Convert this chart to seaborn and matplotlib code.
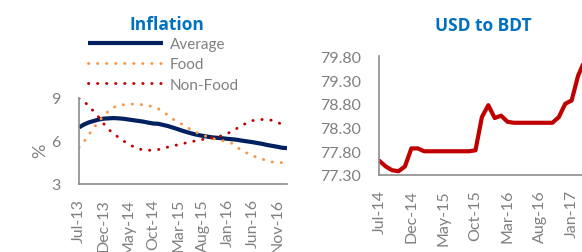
import pandas as pd
import numpy as np
import matplotlib
matplotlib.use("Agg")
import matplotlib.pyplot as plt
import seaborn as sns

# Inflation, monthly Jul-13 .. Jan-17
infl_months = pd.date_range("2013-07-01", "2017-01-01", freq="MS").strftime("%b-%y").tolist()
avg = [6.95, 7.15, 7.30, 7.40, 7.50, 7.56, 7.58, 7.60, 7.58, 7.55, 7.50, 7.45, 7.40, 7.35,
       7.28, 7.22, 7.20, 7.12, 7.04, 6.93, 6.82, 6.70, 6.60, 6.50, 6.42, 6.36, 6.30, 6.25,
       6.22, 6.19, 6.15, 6.12, 6.08, 6.02, 5.97, 5.92, 5.86, 5.80, 5.72, 5.66, 5.60, 5.53, 5.50]
food = [5.55, 5.95, 6.45, 6.93, 7.37, 7.77, 8.10, 8.35, 8.50, 8.53, 8.56, 8.58, 8.56, 8.52,
        8.48, 8.37, 8.25, 8.02, 7.80, 7.52, 7.30, 7.14, 6.92, 6.72, 6.55, 6.42, 6.28, 6.17,
        6.10, 6.02, 5.95, 5.82, 5.55, 5.30, 5.14, 4.98, 4.85, 4.74, 4.62, 4.54, 4.51, 4.49, 4.48]
non_food = [9.00, 8.75, 8.45, 8.05, 7.65, 7.20, 6.80, 6.50, 6.25, 6.00, 5.80, 5.60, 5.45, 5.38,
            5.35, 5.37, 5.40, 5.50, 5.58, 5.66, 5.74, 5.82, 5.90, 5.97, 6.05, 6.11, 6.18, 6.24,
            6.30, 6.38, 6.52, 6.72, 6.90, 7.10, 7.28, 7.42, 7.48, 7.50, 7.49, 7.44, 7.32, 7.15, 7.05]

# Exchange rate, monthly Jul-14 .. Mar-17
fx_months = pd.date_range("2014-07-01", "2017-03-01", freq="MS").strftime("%b-%y").tolist()
usd_bdt = [77.60, 77.48, 77.40, 77.38, 77.48, 77.86, 77.86, 77.80, 77.80, 77.80, 77.80, 77.80,
           77.80, 77.80, 77.80, 77.82, 78.52, 78.77, 78.50, 78.55, 78.42, 78.40, 78.40, 78.40,
           78.40, 78.40, 78.40, 78.40, 78.52, 78.80, 78.87, 79.39, 79.70]

sns.set_style("white")
plt.rcParams["font.family"] = ["Lato", "DejaVu Sans"]

grey = "#808080"
axis_grey = "#8c8c8c"
title_blue = "#0070C0"

infl = pd.DataFrame({"i": np.arange(len(infl_months)), "Average": avg,
                     "Food": food, "Non-Food": non_food})
fx = pd.DataFrame({"i": np.arange(len(fx_months)), "rate": usd_bdt})

fig = plt.figure(figsize=(5.82, 2.53), dpi=100)
W, H = 582, 253
ax1 = fig.add_axes([79 / W, 68 / H, 208 / W, 86 / H])
ax2 = fig.add_axes([379.3 / W, 77 / H, 218 / W, 118.7 / H])

dots = (0, (0.1, 3.0))
sns.lineplot(data=infl, x="i", y="Average", ax=ax1, color="#002060", lw=3,
             label="Average", solid_capstyle="butt")
sns.lineplot(data=infl, x="i", y="Food", ax=ax1, color="#F79646", lw=2.1,
             linestyle=dots, dash_capstyle="round", label="Food")
sns.lineplot(data=infl, x="i", y="Non-Food", ax=ax1, color="#C00000", lw=2.1,
             linestyle=dots, dash_capstyle="round", label="Non-Food")

sns.lineplot(data=fx, x="i", y="rate", ax=ax2, color="#C00000", lw=3)

for ax in (ax1, ax2):
    sns.despine(ax=ax)
    for s in ("left", "bottom"):
        ax.spines[s].set_color(axis_grey)
        ax.spines[s].set_linewidth(1.2)
    ax.tick_params(axis="both", colors=axis_grey, labelcolor=grey, direction="out",
                   length=4, width=1.2, labelsize=11.5)
    ax.tick_params(axis="y", pad=9)
    ax.tick_params(axis="x", pad=6)
    ax.set_xlabel("")
    ax.grid(False)

ax1.set_xlim(0, len(infl_months) - 1)
ax1.set_ylim(3, 9)
ax1.set_yticks([3, 6, 9])
xt = list(range(0, len(infl_months) - 1, 5))
ax1.set_xticks(xt)
ax1.set_xticklabels([infl_months[k] for k in xt], rotation=90, ha="center", va="top")
ax1.set_ylabel("%", color=grey, fontsize=13)
ax1.yaxis.set_label_coords(-0.15, 0.4)

ax2.set_xlim(0, 34)
ax2.set_ylim(77.3, 79.8)
ax2.set_yticks(np.arange(77.3, 79.81, 0.5))
ax2.set_yticklabels([f"{v:.2f}" for v in np.arange(77.3, 79.81, 0.5)])
xt2 = list(range(0, len(fx_months), 5))
ax2.set_xticks(xt2)
ax2.set_xticklabels([fx_months[k] for k in xt2], rotation=90, ha="center", va="top")
ax2.set_ylabel("")

fig.text(167 / W, 1 - 25 / H, "Inflation", ha="center", va="center", color=title_blue,
         fontsize=12.5, fontweight="bold", family=["Open Sans", "DejaVu Sans"])
fig.text(483 / W, 1 - 26 / H, "USD to BDT", ha="center", va="center", color=title_blue,
         fontsize=12.5, fontweight="bold", family=["Open Sans", "DejaVu Sans"])

leg = ax1.legend(loc="upper left", bbox_to_anchor=(88 / W, 1 - 38 / H), bbox_transform=fig.transFigure,
                 frameon=False, fontsize=11, handlelength=4.9, handletextpad=0.45,
                 labelspacing=0.42, borderpad=0, borderaxespad=0)
for t in leg.get_texts():
    t.set_color(grey)

fig.savefig("out.png", dpi=100)
